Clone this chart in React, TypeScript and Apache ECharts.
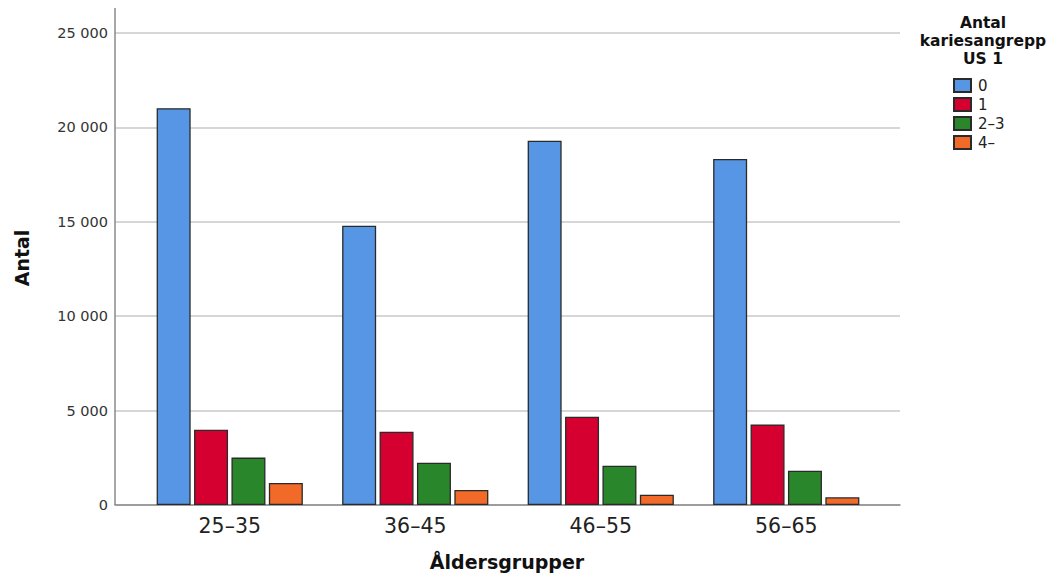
import React, { useEffect, useRef } from "react";
import * as echarts from "echarts";

const categories = ["25–35", "36–45", "46–55", "56–65"];
const seriesNames = ["0", "1", "2–3", "4–"];
const values0 = [21020, 14790, 19290, 18330];
const values1 = [3990, 3880, 4680, 4270];
const values23 = [2510, 2240, 2080, 1820];
const values4 = [1170, 800, 540, 410];
const seriesColors = ["#5796E4", "#D5002F", "#2A862A", "#F26A28"];
const yTicks = { min: 0, max: 25000, interval: 5000 };

const fmt = (v: number) => String(v).replace(/\B(?=(\d{3})+(?!\d))/g, " ");

export default function App() {
  const ref = useRef<HTMLDivElement>(null);
  useEffect(() => {
    if (!ref.current) return;
    const chart = echarts.init(ref.current, null, { renderer: "svg" });
    const allValues = [values0, values1, values23, values4];
    const font = "DejaVu Sans";
    chart.setOption({
      animation: false,
      backgroundColor: "#ffffff",
      textStyle: { fontFamily: font },
      grid: [
        { left: 115, right: 150, top: 33, bottom: 74, containLabel: false },
        { left: 137, width: 742, top: 33, bottom: 74, containLabel: false },
      ],
      xAxis: [
        {
          gridIndex: 0,
          type: "value",
          min: 0,
          max: 1,
          axisLine: { show: true, lineStyle: { color: "#8a8a8a", width: 1.5 } },
          axisTick: { show: false },
          axisLabel: { show: false },
          splitLine: { show: false },
        },
        {
          gridIndex: 1,
          type: "category",
          data: categories,
          axisLine: { show: false },
          axisTick: { show: false },
          splitLine: { show: false },
          axisLabel: { color: "#222", fontSize: 20.5, margin: 10, fontFamily: font },
        },
      ],
      yAxis: [
        {
          gridIndex: 0,
          type: "value",
          min: yTicks.min,
          max: yTicks.max,
          interval: yTicks.interval,
          axisLine: { show: false },
          axisTick: { show: false },
          axisLabel: { color: "#333", fontSize: 14.5, margin: 7, formatter: (v: number) => fmt(v), fontFamily: font },
          splitLine: { show: true, lineStyle: { color: "#c8c8c8", width: 1.5 } },
        },
        {
          gridIndex: 1,
          type: "value",
          min: yTicks.min,
          max: yTicks.max,
          interval: yTicks.interval,
          show: false,
          splitLine: { show: false },
        },
      ],
      legend: {
        orient: "vertical",
        left: 948,
        top: 73,
        itemWidth: 17,
        itemHeight: 13,
        itemGap: 4,
        data: seriesNames,
        textStyle: { color: "#222", fontSize: 15, fontFamily: font, padding: [0, 0, 0, 2] },
        icon: "rect",
      },
      graphic: [
        {
          type: "line",
          shape: { x1: 115, y1: 8, x2: 115, y2: 505 },
          style: { stroke: "#8a8a8a", lineWidth: 1.5 },
          z: 10,
        },
        {
          type: "text",
          x: 507,
          y: 562,
          style: {
            text: "Åldersgrupper",
            fontSize: 19,
            fontWeight: "bold",
            fontFamily: font,
            fill: "#111",
            textAlign: "center",
            textVerticalAlign: "middle",
          },
        },
        {
          type: "text",
          x: 22,
          y: 258,
          rotation: Math.PI / 2,
          style: {
            text: "Antal",
            fontSize: 19,
            fontWeight: "bold",
            fontFamily: font,
            fill: "#111",
            textAlign: "center",
            textVerticalAlign: "middle",
          },
        },
        {
          type: "text",
          x: 983,
          y: 14,
          style: {
            text: "Antal\nkariesangrepp\nUS 1",
            fontSize: 15.5,
            fontWeight: "bold",
            fontFamily: font,
            fill: "#111",
            textAlign: "center",
            lineHeight: 18,
          },
        },
      ],
      series: seriesNames.map((name, i) => ({
        name,
        type: "bar",
        xAxisIndex: 1,
        yAxisIndex: 1,
        data: allValues[i],
        barWidth: 34,
        barGap: "10%",
        itemStyle: { color: seriesColors[i], borderColor: "#2a2a2a", borderWidth: 1.3 },
      })),
    });
    return () => chart.dispose();
  }, []);
  return (
    <div
      ref={ref}
      style={{ position: "fixed", left: 0, top: 0, width: 1050, height: 579 }}
    />
  );
}
